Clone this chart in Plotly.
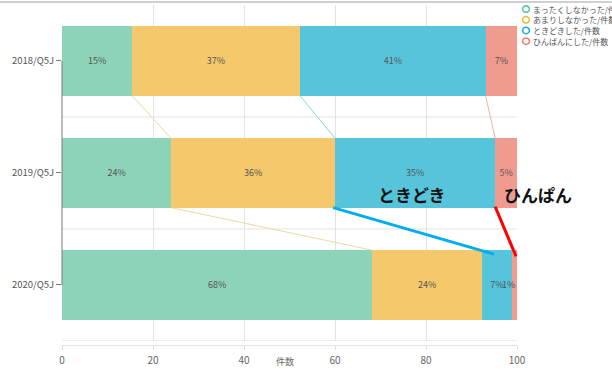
import plotly.graph_objects as go

years = ["2018/Q5J", "2019/Q5J", "2020/Q5J"]
series_names = ["まったくしなかった/件数", "あまりしなかった/件数", "ときどきした/件数", "ひんぱんにした/件数"]
never = [15.4, 24.0, 68.2]
rarely = [36.9, 36.0, 24.1]
sometimes = [40.8, 35.2, 6.6]
often = [6.9, 4.8, 1.1]

bar_colors = ["#8dd3b8", "#f5c86b", "#56c4db", "#f09b90"]
legend_colors = ["#5cc9a0", "#f5b83a", "#22a8d8", "#ee7d72"]
link_colors = ["#ecd9a0", "#8fd3dc", "#ebb3aa"]

# hand-drawn callouts on the reference: (x0, y0, x1, y1) in data units
callout_blue = [59.6, 1.31, 94.9, 1.725]
callout_red = [95.2, 1.30, 99.8, 1.745]

FONT = "Noto Sans CJK JP"
BAR_W = 0.62

fig = go.Figure()
ypos = list(range(len(years)))
values = [never, rarely, sometimes, often]

annotations = []
for s, (name, vals, col) in enumerate(zip(series_names, values, bar_colors)):
    labels = [f"{round(v)}%" for v in vals]
    if s == len(values) - 1:
        # the thin last slice: label sits just right of the previous one
        annotations.append(dict(text=labels[-1], x=100, y=ypos[-1], xref="x", yref="y",
                                xanchor="right", showarrow=False,
                                font=dict(size=9, color="#555555", family=FONT)))
        labels[-1] = ""
    fig.add_trace(
        go.Bar(
            y=ypos,
            x=vals,
            orientation="h",
            name=name,
            width=BAR_W,
            marker=dict(color=col, line=dict(width=0)),
            text=labels,
            textposition="inside",
            insidetextanchor="middle",
            constraintext="none",
            insidetextfont=dict(size=9, color="#555555", family=FONT),
            cliponaxis=False,
            showlegend=False,
        )
    )

# series lines between bars
cum = []
run = [0.0] * len(years)
for vals in values[:-1]:
    run = [a + b for a, b in zip(run, vals)]
    cum.append(run)

for k, c in enumerate(cum):
    xs, ys = [], []
    for i in range(len(years) - 1):
        xs.extend([c[i], c[i + 1], None])
        ys.extend([i + BAR_W / 2, i + 1 - BAR_W / 2, None])
    fig.add_trace(
        go.Scatter(
            x=xs, y=ys, mode="lines",
            line=dict(color=link_colors[k], width=1),
            showlegend=False, hoverinfo="skip",
        )
    )

shapes = []
# category boundary gridlines
for b in [0.5, 1.5, 2.5]:
    shapes.append(dict(type="line", xref="paper", x0=0, x1=1, yref="y", y0=b, y1=b,
                       line=dict(color="#e3e3e3", width=1), layer="below"))
# y axis bracket
shapes.append(dict(type="line", xref="paper", x0=0, x1=0, yref="y", y0=0, y1=2,
                   line=dict(color="#7a7a7a", width=1)))
# top frame line
shapes.append(dict(type="line", xref="paper", x0=-0.2, x1=1.3, yref="paper", y0=1.009, y1=1.009,
                   line=dict(color="#d0d0d0", width=2)))
# callouts
shapes.append(dict(type="line", x0=callout_blue[0], y0=callout_blue[1], x1=callout_blue[2], y1=callout_blue[3],
                   line=dict(color="#00aeef", width=3)))
shapes.append(dict(type="line", x0=callout_red[0], y0=callout_red[1], x1=callout_red[2], y1=callout_red[3],
                   line=dict(color="#ff0000", width=3)))

annotations += [
    dict(text="<b>ときどき</b>", x=77.0, y=1.19, xref="x", yref="y", showarrow=False,
         font=dict(size=17, color="#111111", family=FONT)),
    dict(text="<b>ひんぱん</b>", x=100, xshift=21, y=1.19, xref="x", yref="y", showarrow=False,
         font=dict(size=17, color="#111111", family=FONT)),
    dict(text="件数", x=49, y=-0.074, xref="x", yref="paper", showarrow=False,
         font=dict(size=9, color="#666666", family=FONT)),
]

# legend drawn as open circles + labels
for i, (name, col) in enumerate(zip(series_names, legend_colors)):
    yc = 0.988 - i * 0.0315
    cx = 1.0198
    shapes.append(dict(type="circle", xref="paper", yref="paper",
                       x0=cx - 0.0075, x1=cx + 0.0075, y0=yc - 0.0095, y1=yc + 0.0095,
                       line=dict(color=col, width=1.6)))
    annotations.append(dict(text=name, x=cx + 0.012, y=yc, xref="paper", yref="paper",
                            xanchor="left", yanchor="middle", showarrow=False,
                            font=dict(size=8, color="#555555", family=FONT)))

fig.update_layout(
    width=612,
    height=369,
    barmode="stack",
    bargap=0.38,
    plot_bgcolor="white",
    paper_bgcolor="white",
    margin=dict(l=62, r=95, t=5, b=24, autoexpand=False),
    font=dict(family=FONT),
    xaxis=dict(
        range=[0, 100],
        tickvals=[0, 20, 40, 60, 80, 100],
        showgrid=True,
        gridcolor="#e3e3e3",
        zeroline=False,
        showline=True,
        linecolor="#e3e3e3",
        ticks="outside",
        ticklen=4,
        tickcolor="#e0e0e0",
        tickfont=dict(size=10, color="#666666"),
        ticklabelstandoff=2,
        anchor="free",
        position=0,
        automargin=False,
    ),
    yaxis=dict(
        domain=[0.012, 1],
        range=[2.5, -0.5],
        tickvals=ypos,
        ticktext=years,
        showgrid=False,
        zeroline=False,
        showline=False,
        ticks="outside",
        ticklen=5,
        tickcolor="#7a7a7a",
        tickfont=dict(size=9.5, color="#555555"),
        automargin=False,
    ),
    shapes=shapes,
    annotations=annotations,
)

fig.write_html(
    "out.html",
    config={"displayModeBar": False},
    post_script="document.body.style.margin='0';document.body.style.overflow='hidden';",
)
